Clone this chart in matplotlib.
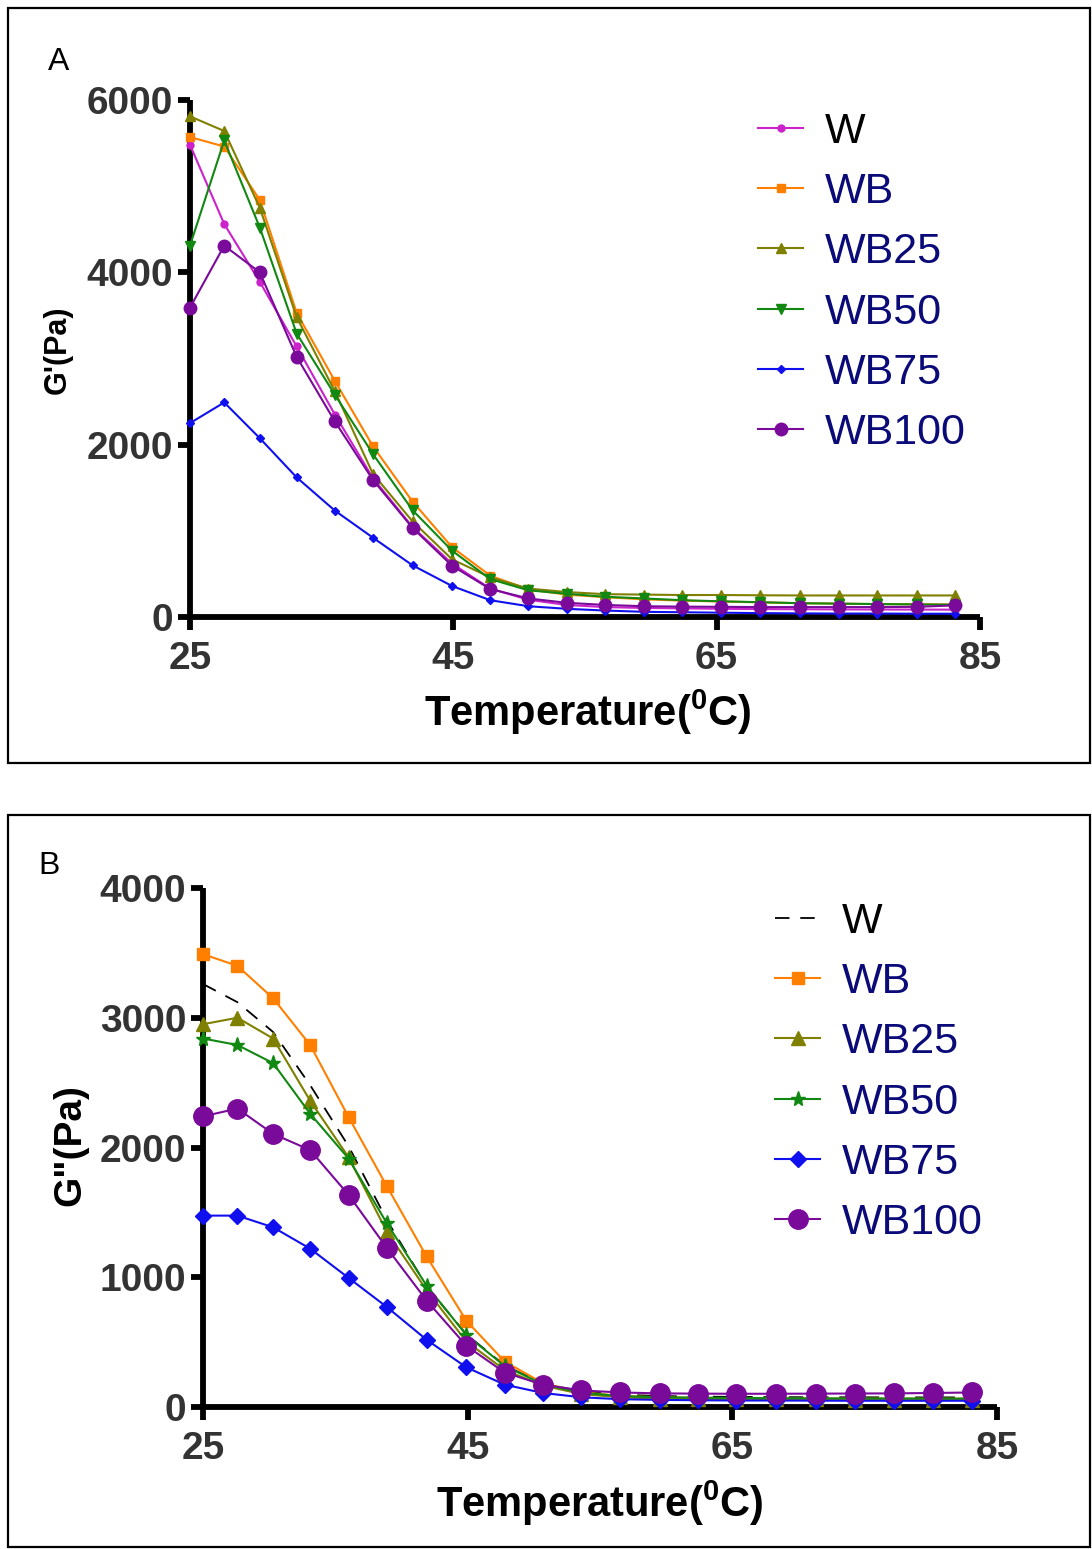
import numpy as np
import matplotlib
matplotlib.use("Agg")
import matplotlib.pyplot as plt
from matplotlib.patches import Rectangle

plt.rcParams['font.family'] = ['Liberation Sans', 'DejaVu Sans']
plt.rcParams['mathtext.fontset'] = 'custom'
plt.rcParams['mathtext.bf'] = 'Liberation Sans:bold'
plt.rcParams['mathtext.rm'] = 'Liberation Sans:bold'

# temperatures (deg C)
temp = [25, 27.6, 30.3, 33.1, 36.0, 38.9, 41.9, 44.9, 47.8, 50.7, 53.6,
        56.5, 59.5, 62.4, 65.3, 68.3, 71.3, 74.3, 77.2, 80.2, 83.1]

labels = ["W", "WB", "WB25", "WB50", "WB75", "WB100"]

# panel A : G' (Pa)
g1_W = [5480, 4560, 3890, 3140, 2350, 1610, 1045, 620, 330, 200, 140,
        115, 105, 100, 95, 92, 90, 88, 87, 86, 85]
g1_WB = [5570, 5460, 4840, 3530, 2740, 1980, 1340, 810, 480, 320, 260,
         230, 205, 190, 180, 170, 160, 155, 150, 148, 145]
g1_WB25 = [5810, 5640, 4750, 3480, 2620, 1660, 1110, 670, 460, 330, 290,
           265, 260, 255, 255, 252, 250, 250, 250, 250, 250]
g1_WB50 = [4310, 5530, 4520, 3290, 2580, 1890, 1240, 770, 440, 310, 270,
           235, 215, 195, 182, 172, 160, 155, 150, 146, 143]
g1_WB75 = [2250, 2490, 2075, 1620, 1235, 920, 600, 360, 195, 125, 95,
           75, 60, 55, 50, 45, 42, 40, 40, 38, 38]
g1_WB100 = [3590, 4310, 4000, 3020, 2270, 1590, 1035, 595, 325, 215, 165,
            140, 125, 120, 118, 115, 115, 115, 115, 118, 135]

# panel B : G'' (Pa)
g2_W = [3260, 3120, 2890, 2480, 2010, 1440, 930, 560, 320, 180, 120,
        95, 85, 80, 78, 76, 75, 75, 74, 74, 74]
g2_WB = [3490, 3400, 3150, 2790, 2235, 1700, 1160, 665, 350, 183, 115,
         85, 75, 70, 68, 66, 65, 65, 64, 64, 64]
g2_WB25 = [2950, 3000, 2840, 2360, 1925, 1350, 900, 505, 285, 165, 100,
           75, 65, 60, 60, 58, 58, 57, 57, 57, 57]
g2_WB50 = [2840, 2790, 2650, 2260, 1915, 1415, 935, 555, 316, 175, 110,
           85, 75, 72, 70, 68, 67, 66, 66, 65, 65]
g2_WB75 = [1475, 1475, 1385, 1220, 995, 770, 518, 306, 172, 108, 75,
           60, 55, 52, 50, 50, 49, 48, 48, 48, 48]
g2_WB100 = [2240, 2300, 2105, 1980, 1635, 1225, 820, 472, 265, 172, 128,
            112, 105, 103, 102, 102, 103, 104, 105, 108, 112]

colors = ["#cc22cc", "#ff8000", "#808000", "#118811", "#1010ee", "#7a0a9a"]
navy = "#0a0a78"

W, H = 1092, 1549
fig = plt.figure(figsize=(W / 100, H / 100), dpi=100)

# panel frames
fig.add_artist(Rectangle((8 / W, 1 - 763 / H), 1082 / W, 755 / H,
                         transform=fig.transFigure, fill=False, lw=1.6, ec='black'))
fig.add_artist(Rectangle((8 / W, 1 - 1547 / H), 1082 / W, 732 / H,
                         transform=fig.transFigure, fill=False, lw=1.6, ec='black'))


def style_axes(ax, ymax, ystep):
    ax.set_xlim(25, 85)
    ax.set_ylim(0, ymax)
    ax.set_xticks([25, 45, 65, 85])
    ax.set_yticks(np.arange(0, ymax + 1, ystep))
    for s in ['top', 'right']:
        ax.spines[s].set_visible(False)
    for s in ['left', 'bottom']:
        ax.spines[s].set_linewidth(4.2)
        ax.spines[s].set_capstyle('butt')
    ax.tick_params(direction='out', length=9, width=4.2, labelsize=28,
                   labelcolor='#333333')
    ax.tick_params(axis='y', pad=3)
    ax.tick_params(axis='x', pad=8)
    for t in ax.get_xticklabels() + ax.get_yticklabels():
        t.set_fontweight('bold')


def add_legend(ax, x_px, y_px):
    leg = ax.legend(loc='upper left', bbox_to_anchor=(x_px / W, 1 - y_px / H),
                    bbox_transform=fig.transFigure, frameon=False,
                    fontsize=31, handlelength=1.05, handletextpad=0.5,
                    labelspacing=0.47, borderaxespad=0, borderpad=0)
    for i, t in enumerate(leg.get_texts()):
        t.set_color('black' if i == 0 else navy)


# ---- panel A ----
axA = fig.add_axes([190 / W, 1 - 617 / H, 790 / W, 517 / H])
seriesA = [g1_W, g1_WB, g1_WB25, g1_WB50, g1_WB75, g1_WB100]
markersA = ['o', 's', '^', 'v', 'D', 'o']
msA = [5, 6, 6.5, 6.5, 4.5, 9]
for vals, lab, c, m, s in zip(seriesA, labels, colors, markersA, msA):
    axA.plot(temp, vals, color=c, marker=m, ms=s, lw=1.5, label=lab,
             clip_on=False, zorder=3)
style_axes(axA, 6000, 2000)
axA.set_xlabel('Temperature($\\mathbf{^{0}}$C)', fontsize=30, fontweight='bold',
               va='center')
axA.xaxis.set_label_coords(0.504, -0.184)
axA.set_ylabel("G'(Pa)", fontsize=22, fontweight='bold', va='center')
axA.yaxis.set_label_coords(-0.167, 0.516)
add_legend(axA, 758, 112)
fig.text(48 / W, 1 - 62 / H, 'A', fontsize=23, va='center', ha='left')

# ---- panel B ----
axB = fig.add_axes([203 / W, 1 - 1407 / H, 794 / W, 519 / H])
seriesB = [g2_W, g2_WB, g2_WB25, g2_WB50, g2_WB75, g2_WB100]
markersB = [None, 's', '^', '*', 'D', 'o']
msB = [0, 9, 9.5, 11, 8, 14]
for vals, lab, c, m, s in zip(seriesB, labels, colors, markersB, msB):
    if m is None:
        axB.plot(temp, vals, color='black', lw=1.3, dashes=(8, 6), label=lab,
                 clip_on=False, zorder=3)
    else:
        axB.plot(temp, vals, color=c, marker=m, ms=s, lw=1.5, label=lab,
                 clip_on=False, zorder=3)
style_axes(axB, 4000, 1000)
axB.set_xlabel('Temperature($\\mathbf{^{0}}$C)', fontsize=30, fontweight='bold',
               va='center')
axB.xaxis.set_label_coords(0.5, -0.185)
axB.set_ylabel('G"(Pa)', fontsize=28, fontweight='bold', va='center')
axB.yaxis.set_label_coords(-0.1675, 0.505)
add_legend(axB, 775, 902)
fig.text(38 / W, 1 - 866 / H, 'B', fontsize=23, va='center', ha='left')

fig.savefig('out.png', dpi=100)
